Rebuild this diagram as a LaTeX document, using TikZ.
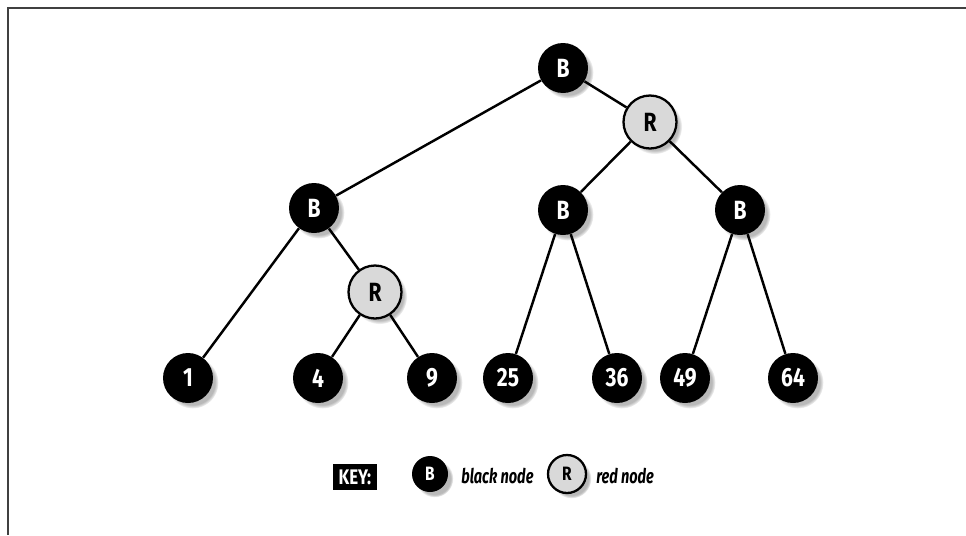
\documentclass[tikz,border=0pt]{standalone}
\usepackage{fontspec}
\usetikzlibrary{shadows}
\newfontfamily\labfont[FakeStretch=0.8]{Fira Sans}
\newfontfamily\keyfont[FakeStretch=0.72]{Fira Sans}
\definecolor{rednodefill}{HTML}{D9D9D9}
\begin{document}
\begin{tikzpicture}[x=0.02cm,y=-0.02cm,
  nodeshadow/.style={circular drop shadow={shadow xshift=2.5pt,shadow yshift=-2.5pt,shadow scale=1.04,opacity=0.55}},
  bnode/.style={circle,fill=black,text=white,minimum size=1cm,inner sep=0pt,
    font=\labfont\bfseries\fontsize{15}{15}\selectfont,nodeshadow},
  rnode/.style={circle,fill=rednodefill,draw=black,line width=1.3pt,text=black,minimum size=1.06cm,inner sep=0pt,
    font=\labfont\bfseries\fontsize{15}{15}\selectfont,nodeshadow},
  kbnode/.style={bnode,minimum size=0.72cm,font=\labfont\bfseries\fontsize{11}{11}\selectfont},
  krnode/.style={rnode,minimum size=0.76cm,font=\labfont\bfseries\fontsize{11}{11}\selectfont},
  edge/.style={line width=1.4pt,black},
  keytext/.style={font=\keyfont\bfseries\itshape\fontsize{11.5}{12}\selectfont,anchor=west,inner sep=0pt},
  frame/.style={line width=1.3pt,black!75}]
\useasboundingbox (0,0) rectangle (966,535);
\fill[white] (0,0) rectangle (966,535);
% page frame (top and left edges)
\draw[frame] (966,8) -- (8,8) -- (8,535);

% tree nodes
\node[bnode] (root) at (563,68) {B};
\node[rnode] (r1) at (650,122) {R};
\node[bnode] (bl) at (314,208) {B};
\node[bnode] (bm) at (563,210) {B};
\node[bnode] (br) at (740,210) {B};
\node[rnode] (r2) at (375,292) {R};
\node[bnode] (n1) at (188,378) {1};
\node[bnode] (n4) at (318,378) {4};
\node[bnode] (n9) at (432,378) {9};
\node[bnode] (n25) at (508,378) {25};
\node[bnode] (n36) at (617,378) {36};
\node[bnode] (n49) at (685,378) {49};
\node[bnode] (n64) at (793,378) {64};

% edges
\draw[edge] (root) -- (bl);
\draw[edge] (root) -- (r1);
\draw[edge] (r1) -- (bm);
\draw[edge] (r1) -- (br);
\draw[edge] (bl) -- (n1);
\draw[edge] (bl) -- (r2);
\draw[edge] (r2) -- (n4);
\draw[edge] (r2) -- (n9);
\draw[edge] (bm) -- (n25);
\draw[edge] (bm) -- (n36);
\draw[edge] (br) -- (n49);
\draw[edge] (br) -- (n64);

% key
\node[fill=black,text=white,inner xsep=3pt,inner ysep=3pt,
  font=\labfont\bfseries\fontsize{12}{12}\selectfont] (key) at (355,477) {KEY:};
\node[kbnode] (kb) at (430,474) {B};
\node[keytext] (kbt) at (461,476) {black node};
\node[krnode] (kr) at (567,474) {R};
\node[keytext] (krt) at (596,476) {red node};
\end{tikzpicture}
\end{document}
